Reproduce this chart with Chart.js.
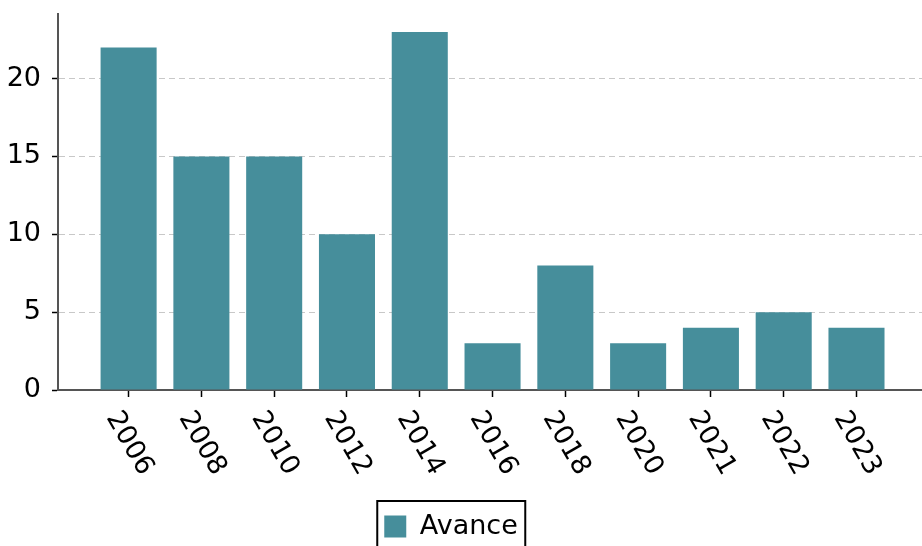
<!DOCTYPE html>
<html>
<head>
<meta charset="utf-8">
<script src="https://cdn.jsdelivr.net/npm/chart.js@4"></script>
<style>
  html, body { margin: 0; padding: 0; background: #fff; }
  #wrap { width: 922px; height: 546px; position: relative; }
</style>
</head>
<body>
<div id="wrap"><canvas id="chart"></canvas></div>
<script>
// Données
const years = ['2006', '2008', '2010', '2012', '2014', '2016', '2018', '2020', '2021', '2022', '2023'];
const avance = [22, 15, 15, 10, 23, 3, 8, 3, 4, 5, 4];
const yTicks = [0, 5, 10, 15, 20];

const FONT = 'DejaVu Sans';
const FS = 27;
const barColor = '#468e9b';

// Étiquettes X tournées (60° horaire) + cadre de la légende
const extras = {
  id: 'extras',
  afterLayout(chart) {
    const lg = chart.legend;
    if (lg) { lg.left -= 10; lg.right -= 10; lg.top += 4; lg.bottom += 4; }
  },
  afterDraw(chart) {
    const { ctx, scales: { x } } = chart;
    ctx.save();
    ctx.font = `${FS}px "${FONT}"`;
    ctx.fillStyle = '#000';
    ctx.textAlign = 'center';
    ctx.textBaseline = 'alphabetic';
    years.forEach((lbl, i) => {
      const px = x.getPixelForValue(i) + 3;
      ctx.save();
      ctx.translate(px, x.top + 52);
      ctx.rotate(Math.PI / 3);
      ctx.fillText(lbl, 0, FS * 0.364);
      ctx.restore();
    });
    ctx.restore();

    const lg = chart.legend;
    if (lg?.legendHitBoxes?.length) {
      const hb = lg.legendHitBoxes[0];
      ctx.save();
      ctx.strokeStyle = '#000';
      ctx.lineWidth = 2;
      ctx.strokeRect(hb.left - 7, hb.top - 12, 148, 60);
      ctx.restore();
    }
  },
};

new Chart(document.getElementById('chart'), {
  type: 'bar',
  data: {
    datasets: [{
      label: 'Avance',
      data: avance.map((v, i) => ({ x: i, y: v })),
      backgroundColor: barColor,
      borderWidth: 0,
      inflateAmount: 0,
      barPercentage: 0.77,
      categoryPercentage: 1,
    }],
  },
  options: {
    responsive: true,
    maintainAspectRatio: false,
    animation: false,
    layout: { padding: { top: 14, left: 0, right: 0, bottom: 0 } },
    plugins: {
      tooltip: { enabled: false },
      legend: {
        position: 'bottom',
        labels: {
          font: { family: FONT, size: FS },
          color: '#000',
          boxWidth: 22,
          boxHeight: 22,
          padding: 10,
        },
      },
    },
    scales: {
      x: {
        type: 'linear',
        offset: false,
        min: -0.97,
        max: 10.9,
        afterBuildTicks: (s) => { s.ticks = years.map((_, i) => ({ value: i })); },
        afterFit: (s) => { s.height = 109; s.paddingLeft = 0; s.paddingRight = 0; },
        ticks: { display: false },
        grid: { offset: false, drawOnChartArea: false, drawTicks: true, tickLength: 7, tickColor: '#000', tickWidth: 1.5 },
        border: { color: '#555', width: 2 },
      },
      y: {
        min: 0,
        max: 24.15,
        afterBuildTicks: (s) => { s.ticks = yTicks.map((v) => ({ value: v })); },
        afterFit: (s) => { s.width = 58; s.paddingTop = 0; s.paddingBottom = 0; },
        ticks: { font: { family: FONT, size: FS }, color: '#000', padding: 11 },
        grid: {
          color: '#c8c8c8',
          lineWidth: 1,
          tickColor: '#000',
          tickLength: 6,
          tickWidth: 1.5,
        },
        border: { color: '#555', width: 2, dash: [6, 4] },
      },
    },
  },
  plugins: [extras],
});
</script>
</body>
</html>
